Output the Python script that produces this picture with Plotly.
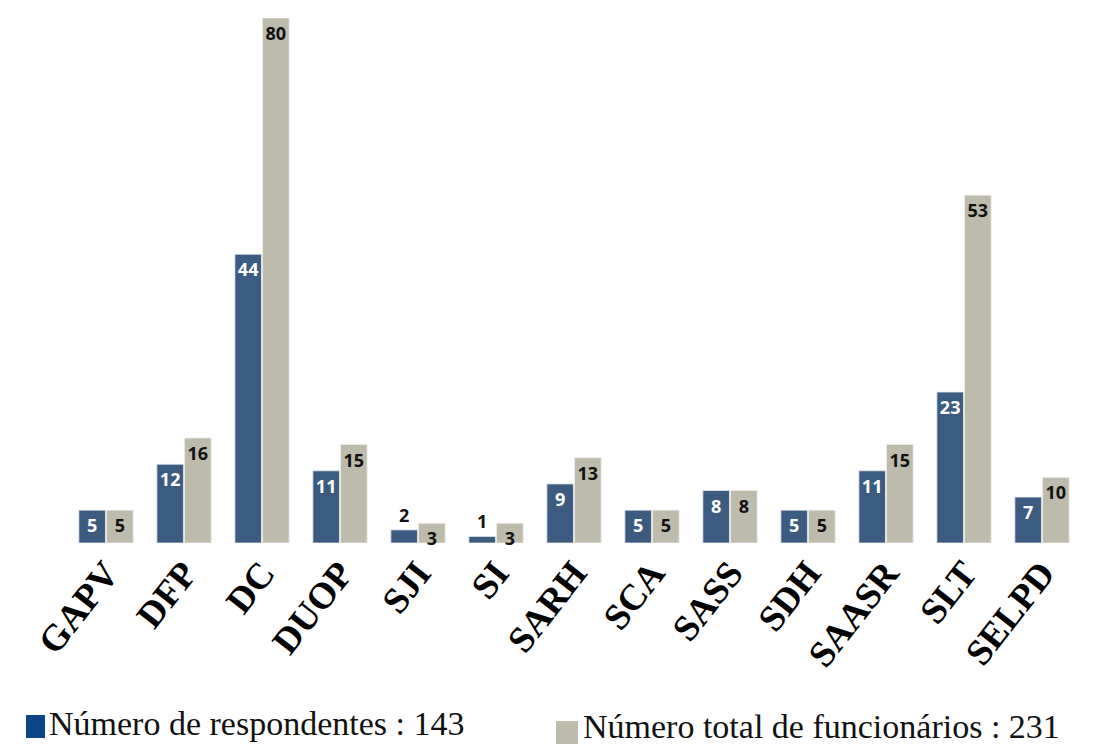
import plotly.graph_objects as go

# Departments and headcounts
departamentos = ["GAPV", "DFP", "DC", "DUOP", "SJI", "SI", "SARH", "SCA",
                 "SASS", "SDH", "SAASR", "SLT", "SELPD"]
respondentes = [5, 12, 44, 11, 2, 1, 9, 5, 8, 5, 11, 23, 7]
funcionarios = [5, 16, 80, 15, 3, 3, 13, 5, 8, 5, 15, 53, 10]

legenda_resp = "Número de respondentes : 143"
legenda_func = "Número total de funcionários : 231"

AZUL = "#3b5b80"
AZUL_LEG = "#0b4585"
CINZA = "#bdbbab"

# Small bars get their label above the bar, in black
pos_resp = ["outside" if v < 3 else "inside" for v in respondentes]
cor_resp = ["#111111" if v < 3 else "white" for v in respondentes]

fig = go.Figure()
fig.add_trace(go.Bar(
    x=departamentos, y=respondentes, name=legenda_resp,
    marker=dict(color=AZUL, line=dict(color="#e4e8ee", width=0.8)),
    text=respondentes, textposition=pos_resp, insidetextanchor="end",
    textangle=0,
    textfont=dict(family="Open Sans", size=18, color=cor_resp, weight="bold"),
    cliponaxis=False, showlegend=False,
))
fig.add_trace(go.Bar(
    x=departamentos, y=funcionarios, name=legenda_func,
    marker=dict(color=CINZA, line=dict(color="#ecebe4", width=0.8)),
    text=funcionarios, textposition="inside", insidetextanchor="end",
    textangle=0,
    textfont=dict(family="Open Sans", size=18, color="#111111", weight="bold"),
    cliponaxis=False, showlegend=False,
))

# Legend drawn as coloured squares with captions below the plot
fig.add_shape(type="rect", xref="paper", yref="paper",
              x0=(26 - 67) / 1014, x1=(45 - 67) / 1014,
              y0=-(738 - 543) / 525, y1=-(715 - 543) / 525,
              fillcolor=AZUL_LEG, line=dict(width=0))
fig.add_shape(type="rect", xref="paper", yref="paper",
              x0=(556 - 67) / 1014, x1=(578 - 67) / 1014,
              y0=-(744 - 543) / 525, y1=-(721 - 543) / 525,
              fillcolor=CINZA, line=dict(width=0))
fig.add_annotation(text=legenda_resp, xref="paper", yref="paper",
                   x=(47 - 67) / 1014, y=-(744 - 543) / 525,
                   xanchor="left", yanchor="bottom", showarrow=False,
                   font=dict(family="Liberation Serif", size=34, color="#111111"))
fig.add_annotation(text=legenda_func, xref="paper", yref="paper",
                   x=(581 - 67) / 1014, y=-(747 - 543) / 525,
                   xanchor="left", yanchor="bottom", showarrow=False,
                   font=dict(family="Liberation Serif", size=34, color="#111111"))

fig.update_layout(
    width=1106, height=746,
    margin=dict(l=67, r=25, t=18, b=203),
    paper_bgcolor="white", plot_bgcolor="white",
    barmode="group", bargap=0.29, bargroupgap=0.04,
    uniformtext=dict(minsize=18, mode="show"),
    xaxis=dict(
        tickangle=-52, showgrid=False, showline=False, ticks="",
        tickfont=dict(family="Liberation Serif", size=37, color="#000000", weight="bold"),
    ),
    yaxis=dict(range=[0, 80], visible=False, showgrid=False, zeroline=False),
    font=dict(family="Liberation Serif"),
)

fig.write_html("out.html")
